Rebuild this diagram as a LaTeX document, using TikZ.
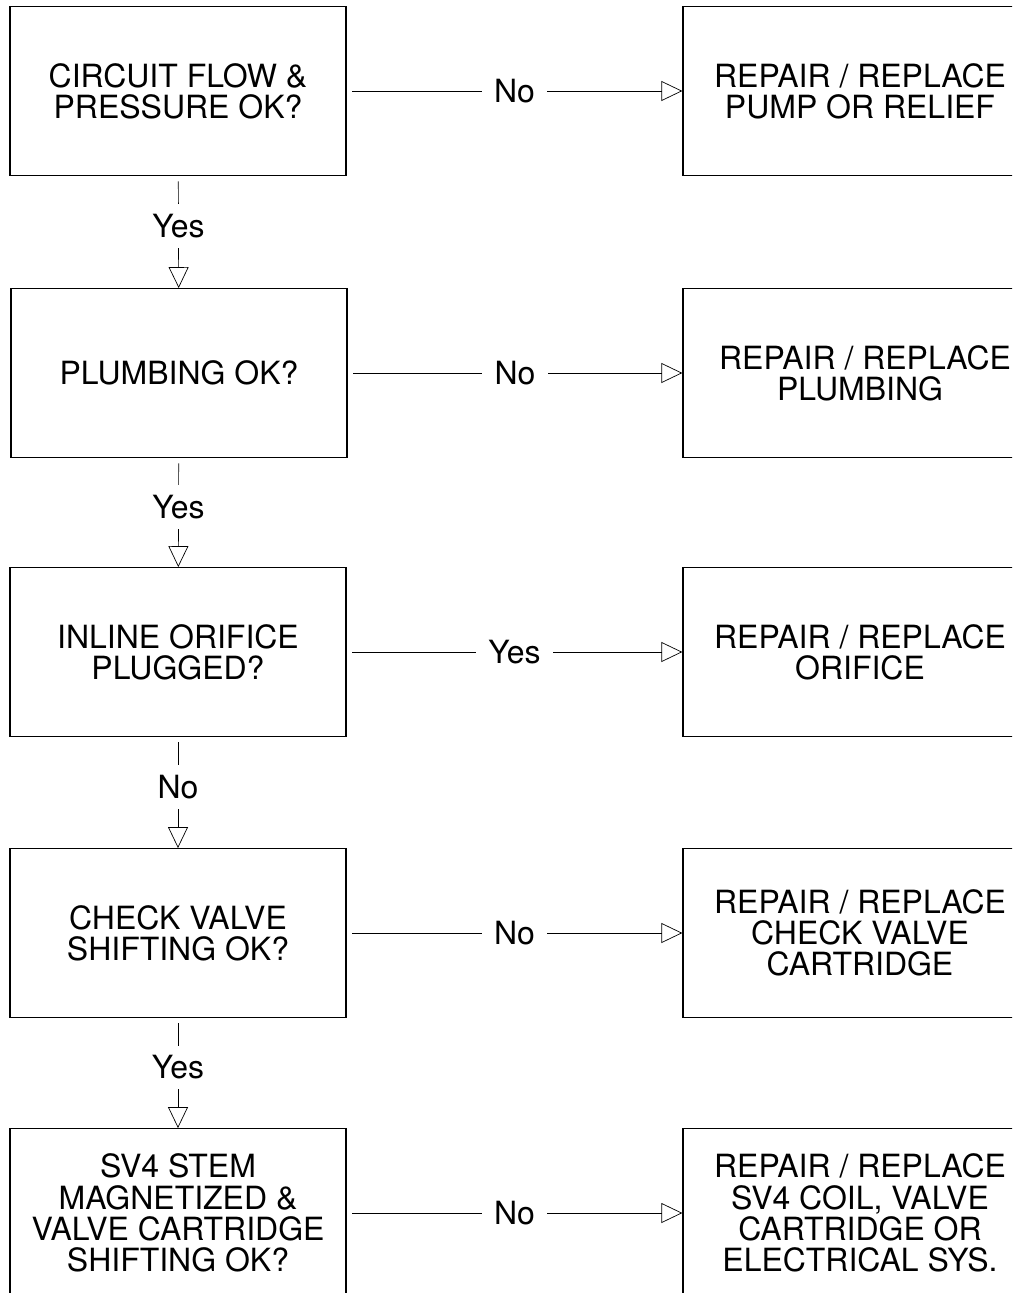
\documentclass[tikz,border=0pt]{standalone}
\usepackage{fontspec}
\setmainfont{TeX Gyre Heros}
\usetikzlibrary{positioning,calc,arrows.meta}

\tikzset{
	lbox/.style={draw, line width=0.8pt, minimum width=6.72cm, minimum height=3.37cm, align=center, inner sep=0pt},
	rbox/.style={draw, line width=0.8pt, minimum width=7.08cm, minimum height=3.37cm, align=center, inner sep=0pt},
	flow/.style={line width=0.4pt, shorten <=0.11cm, -{Triangle[open, length=0.42cm, width=0.4cm]}},
	lab/.style={fill=white, inner xsep=0.25cm, inner ysep=0.2cm}
}

\begin{document}
\begin{tikzpicture}[x=0.02cm, y=-0.02cm, font=\fontsize{18.2}{17.8}\selectfont]
		\useasboundingbox (0,0) rectangle (1012,1293);
		\clip (0,0) rectangle (1012,1293);
		
		\node[lbox] (q1) at (178,91) {CIRCUIT FLOW \&\\PRESSURE OK?};
		\node[lbox] (q2) at (179,373) {PLUMBING OK?};
		\node[lbox] (q3) at (178,652) {INLINE ORIFICE\\PLUGGED?};
		\node[lbox] (q4) at (178,933) {CHECK VALVE\\SHIFTING OK?};
		\node[lbox] (q5) at (178,1213) {SV4 STEM\\MAGNETIZED \&\\VALVE CARTRIDGE\\SHIFTING OK?};
		
		\node[rbox] (r1) at (860,91) {REPAIR / REPLACE\\PUMP OR RELIEF};
		\node[rbox] (r2) at (860,373) {\hspace*{0.2cm}REPAIR / REPLACE\\PLUMBING};
		\node[rbox] (r3) at (860,652) {REPAIR / REPLACE\\ORIFICE};
		\node[rbox] (r4) at (860,933) {REPAIR / REPLACE\\CHECK VALVE\\CARTRIDGE};
		\node[rbox] (r5) at (860,1213) {REPAIR / REPLACE\\SV4 COIL, VALVE\\CARTRIDGE OR\\ELECTRICAL SYS.};
		
		\draw[flow] (q1) -- node[lab] (n1) {No} (r1);
		\draw[flow] (q2) -- node[lab] (n2) {No} (r2);
		\draw[flow] (q3) -- node[lab] (n3) {Yes} (r3);
		\draw[flow] (q4) -- node[lab] (n4) {No} (r4);
		\draw[flow] (q5) -- node[lab] (n5) {No} (r5);
		
		\draw[flow] (q1) -- node[lab, pos=0.45] (y1) {Yes} (q2);
		\draw[flow] (q2) -- node[lab, pos=0.45] (y2) {Yes} (q3);
		\draw[flow] (q3) -- node[lab, pos=0.45] (y3) {No} (q4);
		\draw[flow] (q4) -- node[lab, pos=0.45] (y4) {Yes} (q5);
		
	\end{tikzpicture}
\end{document}
